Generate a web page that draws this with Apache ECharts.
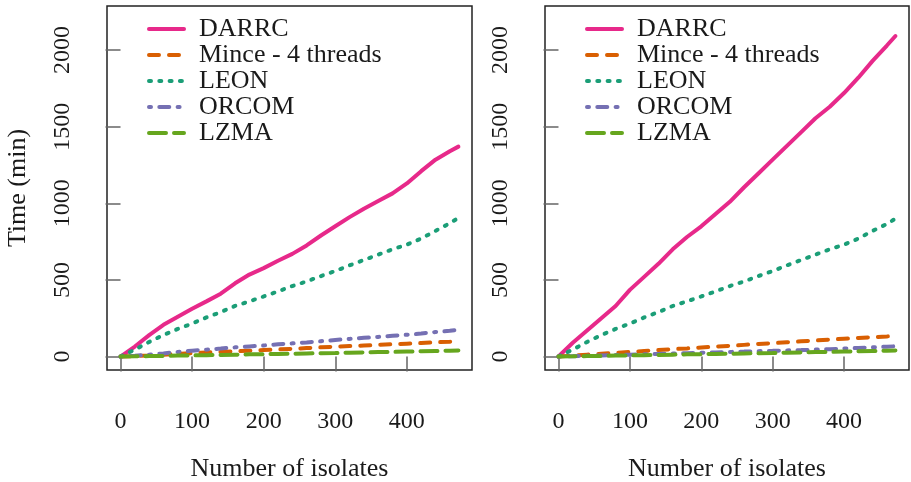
<!DOCTYPE html>
<html>
<head>
<meta charset="utf-8">
<script src="https://cdn.jsdelivr.net/npm/echarts@6/dist/echarts.min.js"></script>
<style>
html, body { margin: 0; padding: 0; background: #fff; }
#chart { width: 911px; height: 482px; }
</style>
</head>
<body>
<div id="chart"></div>
<script>
// number of isolates (x) shared by every curve
var isolates = [0, 20, 40, 60, 80, 100, 120, 140, 160, 180, 200, 220, 240, 260, 280, 300, 320, 340, 360, 380, 400, 420, 440, 460, 472];

// left panel
var leftDarrc = [0, 65, 140, 207, 260, 312, 360, 410, 478, 535, 577, 625, 670, 725, 790, 850, 910, 965, 1015, 1065, 1130, 1210, 1285, 1340, 1370];
var leftMince = [0, 3, 7, 12, 17, 22, 26, 30, 34, 38, 42, 46, 50, 55, 60, 64, 68, 72, 76, 80, 84, 88, 93, 97, 100];
var leftLeon = [0, 45, 95, 140, 180, 215, 255, 290, 330, 360, 392, 425, 460, 490, 525, 558, 595, 630, 665, 700, 730, 770, 820, 870, 905];
var leftOrcom = [0, 5, 12, 20, 30, 38, 45, 52, 60, 66, 72, 80, 86, 92, 100, 108, 115, 122, 128, 135, 142, 150, 160, 168, 175];
var leftLzma = [0, 1, 3, 4, 6, 7, 9, 10, 12, 14, 15, 17, 18, 20, 22, 23, 25, 27, 29, 30, 32, 34, 36, 38, 40];

// right panel
var rightDarrc = [0, 90, 170, 250, 330, 435, 520, 605, 700, 780, 850, 930, 1010, 1105, 1195, 1285, 1375, 1465, 1555, 1630, 1720, 1820, 1930, 2030, 2092];
var rightMince = [0, 6, 12, 18, 24, 30, 36, 42, 48, 53, 59, 65, 70, 76, 82, 87, 93, 99, 105, 111, 116, 121, 126, 131, 135];
var rightLeon = [0, 45, 95, 140, 180, 215, 255, 290, 330, 360, 392, 425, 460, 490, 525, 558, 595, 630, 665, 700, 730, 770, 820, 865, 900];
var rightOrcom = [0, 2, 5, 7, 10, 12, 15, 17, 20, 22, 25, 27, 30, 32, 35, 37, 40, 42, 45, 48, 52, 56, 60, 64, 67];
var rightLzma = [0, 1, 3, 4, 6, 7, 9, 10, 12, 14, 15, 17, 18, 20, 22, 23, 25, 27, 29, 30, 32, 34, 36, 38, 40];

var names = ['DARRC', 'Mince - 4 threads', 'LEON', 'ORCOM', 'LZMA'];
var xTicks = [0, 100, 200, 300, 400];
var yTicks = [0, 500, 1000, 1500, 2000];

var colors = ['#e7298a', '#d95f02', '#1b9e77', '#7570b3', '#66a61e'];
// R lty 1..5 with round caps
var dashes = ['solid', [10, 10], [2, 8.3], [2, 8.3, 10, 8.3], [17, 8]];
var serif = '"Liberation Serif", "Times New Roman", serif';
var ink = '#1a1a1a';

function pairs(ys) {
    return isolates.map(function (x, i) { return [x, ys[i]]; });
}

function makeSeries(idx, sets) {
    return sets.map(function (ys, k) {
        return {
            name: names[k],
            type: 'line',
            xAxisIndex: idx,
            yAxisIndex: idx,
            data: pairs(ys),
            symbol: 'none',
            silent: true,
            lineStyle: { color: colors[k], width: 4, type: dashes[k], cap: 'round' },
            itemStyle: { color: colors[k] }
        };
    });
}

function xAxis(idx) {
    return {
        gridIndex: idx,
        type: 'value',
        min: -18.9,
        max: 491,
        name: 'Number of isolates',
        nameLocation: 'middle',
        nameGap: 86,
        nameTextStyle: { fontFamily: serif, fontSize: 26, color: ink },
        axisLine: { show: false },
        splitLine: { show: false },
        axisTick: { show: true, length: 15, customValues: xTicks, lineStyle: { color: '#666', width: 1.5 } },
        axisLabel: { customValues: xTicks, margin: 40, fontFamily: serif, fontSize: 24, color: ink }
    };
}

function yAxis(idx, withName) {
    return {
        gridIndex: idx,
        type: 'value',
        min: -88,
        max: 2288,
        name: withName ? 'Time (min)' : '',
        nameLocation: 'middle',
        nameGap: 76,
        nameRotate: 90,
        nameTextStyle: { fontFamily: serif, fontSize: 26, color: ink },
        axisLine: { show: false },
        splitLine: { show: false },
        axisTick: { show: true, length: 15, customValues: yTicks, lineStyle: { color: '#666', width: 1.5 } },
        axisLabel: {
            customValues: yTicks, rotate: 90, margin: 32, fontFamily: serif, fontSize: 24, color: ink,
            formatter: function (v) { return String(v); }
        }
    };
}

function legend(left) {
    return {
        orient: 'vertical',
        left: left,
        top: 11,
        itemWidth: 35,
        itemHeight: 14,
        itemGap: 0,
        selectedMode: false,
        data: names,
        itemStyle: { opacity: 0 },
        lineStyle: { width: 4 },
        textStyle: { fontFamily: serif, fontSize: 26, color: ink, lineHeight: 25, padding: [0, 0, 0, 10] }
    };
}

var chart = echarts.init(document.getElementById('chart'));
var option = {
    animation: false,
    backgroundColor: '#fff',
    grid: [
        { left: 107, top: 6, width: 365, height: 364, outerBoundsMode: 'none', show: true, borderColor: '#222', borderWidth: 1.5, backgroundColor: 'transparent' },
        { left: 545, top: 6, width: 364, height: 364, outerBoundsMode: 'none', show: true, borderColor: '#222', borderWidth: 1.5, backgroundColor: 'transparent' }
    ],
    legend: [legend(142), legend(580)],
    xAxis: [xAxis(0), xAxis(1)],
    yAxis: [yAxis(0, true), yAxis(1, false)],
    series: makeSeries(0, [leftDarrc, leftMince, leftLeon, leftOrcom, leftLzma])
        .concat(makeSeries(1, [rightDarrc, rightMince, rightLeon, rightOrcom, rightLzma]))
};
chart.setOption(option);
window.onresize = chart.resize;
</script>
</body>
</html>
